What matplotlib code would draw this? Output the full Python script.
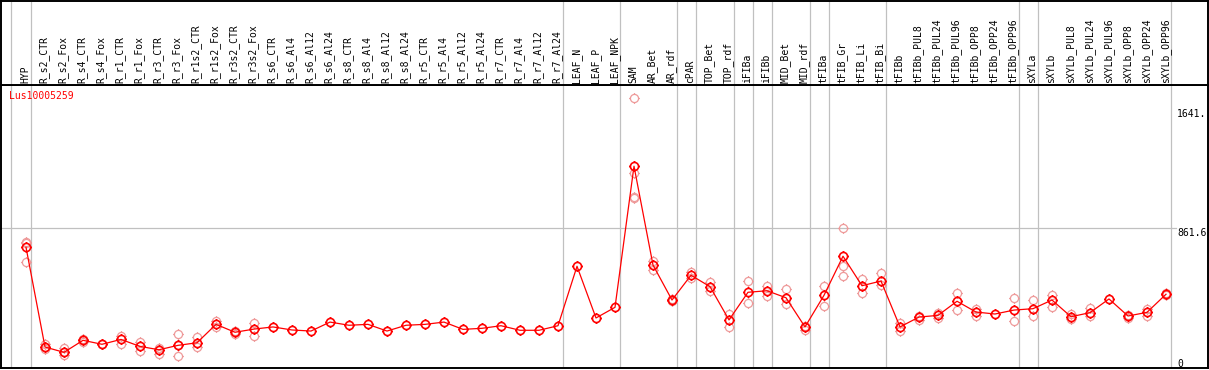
import numpy as np
import matplotlib
matplotlib.use("Agg")
import matplotlib.pyplot as plt
from matplotlib.path import Path
import matplotlib.transforms as mtransforms

# categories (x axis) and groups separated by grey lines
categories = ["HYP",
              "R_s2_CTR", "R_s2_Fox", "R_s4_CTR", "R_s4_Fox", "R_r1_CTR", "R_r1_Fox",
              "R_r3_CTR", "R_r3_Fox", "R_r1s2_CTR", "R_r1s2_Fox", "R_r3s2_CTR", "R_r3s2_Fox",
              "R_s6_CTR", "R_s6_Al4", "R_s6_Al12", "R_s6_Al24",
              "R_s8_CTR", "R_s8_Al4", "R_s8_Al12", "R_s8_Al24",
              "R_r5_CTR", "R_r5_Al4", "R_r5_Al12", "R_r5_Al24",
              "R_r7_CTR", "R_r7_Al4", "R_r7_Al12", "R_r7_Al24",
              "LEAF_N", "LEAF_P", "LEAF_NPK",
              "SAM", "AR_Bet", "AR_rdf",
              "cPAR",
              "TOP_Bet", "TOP_rdf",
              "iFIBa", "iFIBb",
              "MID_Bet", "MID_rdf",
              "tFIBa",
              "tFIB_Gr", "tFIB_Li", "tFIB_Bi",
              "tFIBb", "tFIBb_PUL8", "tFIBb_PUL24", "tFIBb_PUL96",
              "tFIBb_OPP8", "tFIBb_OPP24", "tFIBb_OPP96",
              "sXYLa",
              "sXYLb", "sXYLb_PUL8", "sXYLb_PUL24", "sXYLb_PUL96",
              "sXYLb_OPP8", "sXYLb_OPP24", "sXYLb_OPP96"]
group_sizes = [1, 28, 3, 3, 1, 2, 1, 1, 2, 1, 3, 7, 1, 7]

gene = "Lus10005259"

# mean expression per sample
means = [735,
         79, 44, 123, 97, 129, 83, 61, 90, 107, 228, 176, 197,
         211, 191, 184, 243, 222, 228, 184, 222,
         228, 243, 195, 202, 219, 189, 189, 219,
         610, 270, 340,
         1268, 618, 388,
         551,
         476, 257,
         439, 449,
         403, 211,
         419,
         676, 482, 513,
         211, 276, 287, 380, 309, 296, 322,
         331,
         388, 278, 305, 395, 283, 307, 426]

# replicates
reps = [[772, 761, 636],
        [99, 64, 79], [70, 26, 48], [131, 114], [97, 100], [153, 99], [114, 53],
        [74, 31], [162, 18, 90], [147, 81], [248, 209], [184, 166], [237, 153],
        [], [], [], [], [], [], [], [],
        [], [], [], [], [], [], [], [],
        [], [], [],
        [1715, 1222, 1068, 1060], [645, 586], [392, 384],
        [574, 531],
        [509, 447], [294, 213],
        [513, 366], [482, 416],
        [458, 360], [191, 215],
        [480, 347],
        [860, 614, 544], [524, 432], [564, 487],
        [235, 186], [257, 282], [305, 268], [432, 320], [331, 281], [], [399, 248],
        [388, 285],
        [421, 344], [294, 261], [333, 281], [], [290, 268], [327, 285], [436, 420]]

ytick_vals = [0, 861.6, 1641]
ytick_labels = ["0", "861.6", "1641."]

W, H = 1209, 370
fig = plt.figure(figsize=(W / 100, H / 100), dpi=100)
fig.patch.set_facecolor("white")

mono = "DejaVu Sans Mono"
fs = 7

# axes: plot body and label header
ax = fig.add_axes([1 / W, 2 / H, 1207 / W, 283 / H])
hx = fig.add_axes([1 / W, 285 / H, 1207 / W, 84 / H], sharex=ax)

x = np.arange(len(categories))
ax.set_xlim(-25 / 19, 1182 / 19)
ax.set_ylim(-59, 1802)
hx.set_ylim(0, 1)

for a in (ax, hx):
    a.set_xticks([])
    a.set_yticks([])
    for s in a.spines.values():
        s.set_color("black")
        s.set_linewidth(1.4)

# group separators
bounds = np.concatenate([[-0.8], np.cumsum(group_sizes) - 1 + 0.25])
for b in bounds:
    ax.axvline(b, color="#c0c0c0", lw=0.9, zorder=1)
    hx.axvline(b, color="#c0c0c0", lw=0.9, zorder=1)

# horizontal grid line at middle tick
ax.axhline(ytick_vals[1], xmin=0, xmax=(1176 - 1) / 1207, color="#c0c0c0", lw=0.9, zorder=1)

# marker: circle with small ticks
circ = Path.unit_circle()
tv = [(0, 1), (0, 1.3), (0, -1), (0, -1.3), (1, 0), (1.3, 0), (-1, 0), (-1.3, 0)]
tc = [Path.MOVETO, Path.LINETO] * 4
mk = Path.make_compound_path(circ, Path(tv, tc))

rx = np.concatenate([[i] * len(r) for i, r in enumerate(reps)])
ry = np.concatenate([r for r in reps])
ax.plot(rx, ry, linestyle="none", marker=mk, markersize=7.6, markerfacecolor="none",
        markeredgecolor="#ee9a9a", markeredgewidth=0.9, zorder=2)

ax.plot(x, means, color="#ff0000", lw=0.9, marker=mk, markersize=7.6,
        markerfacecolor="none", markeredgecolor="#ff0000", markeredgewidth=1.2, zorder=3)

# right side value labels
trans = mtransforms.blended_transform_factory(ax.transAxes, ax.transData)
for v, lab in zip(ytick_vals, ytick_labels):
    ax.text((1177 - 1) / 1207, v, lab, transform=trans, ha="left", va="top",
            family=mono, fontsize=fs, color="black")

ax.text(8 / 1207, (368 - 91) / 283, gene, transform=ax.transAxes, ha="left", va="top",
        family=mono, fontsize=fs, color="#ff0000")

# sample names in the header
for i, name in enumerate(categories):
    hx.text(i - 0.04, 0.025, name, rotation=90, ha="center", va="bottom",
            family=mono, fontsize=fs, color="black")

fig.savefig("out.png", dpi=100)
